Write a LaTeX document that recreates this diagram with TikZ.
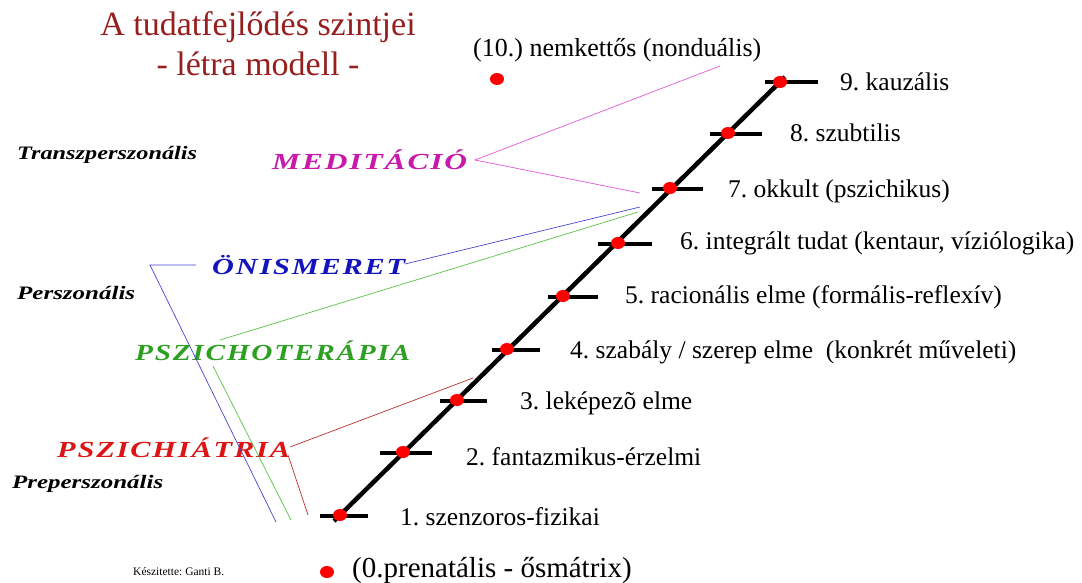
\documentclass[tikz,border=0pt]{standalone}
\usepackage{fontspec}
\setmainfont{Liberation Serif}
\newfontfamily\spacedfont[LetterSpace=6]{Liberation Serif}
\usetikzlibrary{shapes.geometric}
\frenchspacing
\definecolor{titlered}{RGB}{150,30,30}
\definecolor{medcol}{RGB}{200,25,170}
\definecolor{medline}{RGB}{225,90,215}
\definecolor{oncol}{RGB}{20,20,190}
\definecolor{online}{RGB}{70,70,210}
\definecolor{psycol}{RGB}{45,160,35}
\definecolor{psyline}{RGB}{90,195,70}
\definecolor{pszcol}{RGB}{220,20,20}
\definecolor{pszline}{RGB}{185,50,50}
\newcommand{\fitw}[2]{\resizebox{#1pt}{\height}{#2}}
\tikzset{
  dot/.style={ellipse,fill=red,draw=none,minimum width=14pt,minimum height=12pt,inner sep=0pt},
  ladder/.style={line width=4.5pt,black},
  rung/.style={line width=4pt,black},
  lvl/.style={anchor=west,font=\fontsize{25.5}{25.5}\selectfont,inner sep=0pt},
  zone/.style={anchor=west,font=\fontsize{19}{19}\selectfont\bfseries\itshape,inner sep=0pt},
  method/.style={font=\fontsize{23}{23}\selectfont\spacedfont\bfseries\itshape,inner sep=0pt},
  thin/.style={line width=0.7pt}
}
\begin{document}
\begin{tikzpicture}[x=1pt,y=-1pt]
\useasboundingbox[fill=white] (0,0) rectangle (1082,582);
% title
\node[titlered,font=\fontsize{34}{34}\selectfont] (t1) at (258,27) {A tudatfejlődés szintjei};
\node[titlered,font=\fontsize{34}{34}\selectfont] (t2) at (258,64) {- létra modell -};
% ladder
\coordinate (lb) at (334,521);
\coordinate (lt) at (785,77);
\draw[ladder] (lb) -- (lt);
\draw[rung] (320,516) -- (368,516);
\draw[rung] (380,453) -- (432,453);
\draw[rung] (440,401) -- (487,401);
\draw[rung] (492,350) -- (540,350);
\draw[rung] (548,297) -- (598,297);
\draw[rung] (598,244) -- (652,244);
\draw[rung] (652,189) -- (703,189);
\draw[rung] (710,134) -- (762,134);
\draw[rung] (765,82) -- (818,82);
\node[dot] (d1) at (340,515) {};
\node[dot] (d2) at (403,452) {};
\node[dot] (d3) at (457,400) {};
\node[dot] (d4) at (507,349) {};
\node[dot] (d5) at (563,296) {};
\node[dot] (d6) at (618,243) {};
\node[dot] (d7) at (670,188) {};
\node[dot] (d8) at (728,133) {};
\node[dot] (d9) at (780,82) {};
\node[dot] (d10) at (497,79) {};
\node[dot] (d0) at (327,572) {};
% level labels
\node[lvl] (l1) at (400,517) {1. szenzoros-fizikai};
\node[lvl] (l2) at (466,457) {2. fantazmikus-érzelmi};
\node[lvl] (l3) at (520,403) {3. leképezõ elme};
\node[lvl] (l4) at (570,352) {4. szabály / szerep elme \ (konkrét műveleti)};
\node[lvl] (l5) at (625,297) {5. racionális elme (formális-reflexív)};
\node[lvl] (l6) at (680,243) {6. integrált tudat (kentaur, víziólogika)};
\node[lvl] (l7) at (728,191) {7. okkult (pszichikus)};
\node[lvl] (l8) at (790,133) {8. szubtilis};
\node[lvl] (l9) at (840,82) {9. kauzális};
\node[lvl,font=\fontsize{26}{26}\selectfont] (l10) at (473,50) {(10.) nemkettős (nonduális)};
\node[lvl,font=\fontsize{29}{29}\selectfont] (l0) at (352,570) {(0.prenatális - ősmátrix)};
\node[anchor=west,inner sep=0pt,font=\fontsize{11.5}{11.5}\selectfont] (auth) at (133,572) {Készitette: Ganti B.};
% zones
\node[zone] (z1) at (17,155) {\fitw{180}{Transzperszonális}};
\node[zone] (z2) at (17,293) {\fitw{118}{Perszonális}};
\node[zone] (z3) at (12,484) {\fitw{151}{Preperszonális}};
% methods
\node[method,medcol,anchor=west] (med) at (272,160) {\fitw{195}{MEDITÁCIÓ}};
\node[method,oncol,anchor=west] (oni) at (212,265) {\fitw{193}{ÖNISMERET}};
\node[method,psycol,anchor=west] (pst) at (135,351) {\fitw{275}{PSZICHOTERÁPIA}};
\node[method,pszcol,anchor=west] (psz) at (57,448) {\fitw{233}{PSZICHIÁTRIA}};
% connector ends
\coordinate (m0) at (475,160);
\coordinate (m1) at (720,66);
\coordinate (m2) at (640,193);
\coordinate (o0) at (405,264);
\coordinate (o1) at (640,207);
\coordinate (o2) at (150,265);
\coordinate (o3) at (196,265);
\coordinate (o4) at (276,522);
\coordinate (p0) at (220,340);
\coordinate (p1) at (638,212);
\coordinate (p2) at (213,366);
\coordinate (p3) at (291,520);
\coordinate (r0) at (290,447);
\coordinate (r1) at (473,378);
\coordinate (r2) at (288,455);
\coordinate (r3) at (308,515);
\draw[thin,medline] (m1) -- (m0) -- (m2);
\draw[thin,online] (o0) -- (o1);
\draw[thin,online] (o3) -- (o2) -- (o4);
\draw[thin,psyline] (p0) -- (p1);
\draw[thin,psyline] (p2) -- (p3);
\draw[thin,pszline] (r0) -- (r1);
\draw[thin,pszline] (r2) -- (r3);
\end{tikzpicture}
\end{document}
